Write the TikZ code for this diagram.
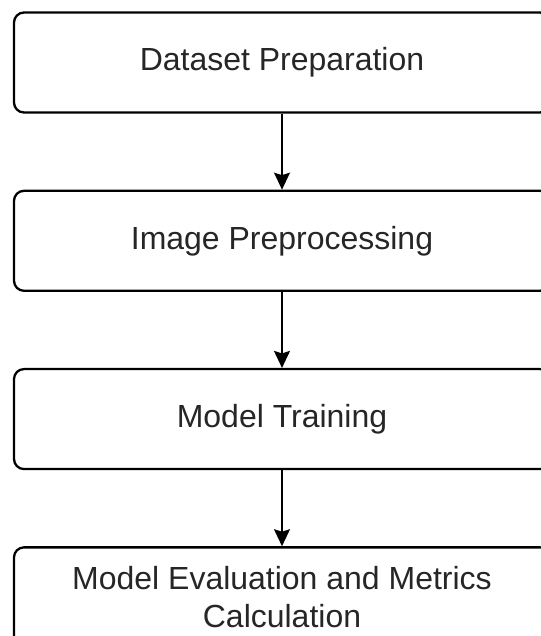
\documentclass[tikz,border=0pt]{standalone}
\usepackage{fontspec}
\setmainfont{Liberation Sans}
\usepackage{tikz}
\usetikzlibrary{positioning,arrows.meta}

\begin{document}
\begin{tikzpicture}[
    stagebox/.style={draw, line width=1.3pt, rounded corners=0.2cm, fill=white,
      minimum width=10.72cm, minimum height=2cm, align=center,
      text=black!85, font=\fontsize{18.2}{21.8}\selectfont},
    flow/.style={line width=1pt, -{Stealth[length=0.34cm, width=0.32cm, inset=0.05cm]}},
    node distance=1.52cm
  ]
  \useasboundingbox (0, 0) rectangle (10.82, -12.72);

  % Stages
  \node[stagebox] (prep) at (5.64, -1.25) {Dataset Preparation};
  \node[stagebox, below=of prep] (preproc) {Image Preprocessing};
  \node[stagebox, below=of preproc] (train) {Model Training};
  \node[stagebox, below=of train] (eval) {Model Evaluation and Metrics\\Calculation};

  % Flow
  \draw[flow] (prep) -- (preproc);
  \draw[flow] (preproc) -- (train);
  \draw[flow] (train) -- (eval);
\end{tikzpicture}
\end{document}
